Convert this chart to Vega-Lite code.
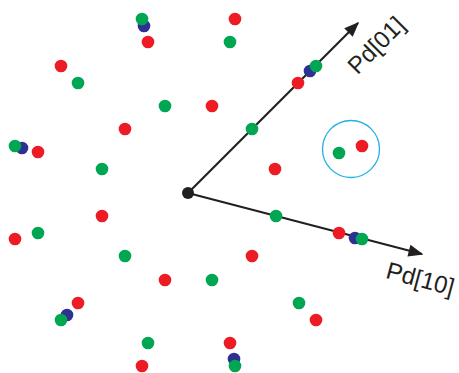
{
  "$schema": "https://vega.github.io/schema/vega-lite/v6.json",
  "width": 459,
  "height": 373,
  "padding": 0,
  "autosize": {"type": "fit", "contains": "padding"},
  "background": "white",
  "config": {"view": {"stroke": null}},
  "datasets": {
    "arrows": [
      {"name": "Pd[01]", "x0": 0, "y0": 0, "x": 170, "y": 170, "dir": 315, "lx": 189, "ly": 147, "la": 315},
      {"name": "Pd[10]", "x0": 0, "y0": 0, "x": 234, "y": -61, "dir": 14.6, "lx": 232, "ly": -87, "la": 15}
    ],
    "points": [
      {"group": "b", "x": -44, "y": 167},
      {"group": "b", "x": -166, "y": 45},
      {"group": "b", "x": 122, "y": 122},
      {"group": "b", "x": 167, "y": -45},
      {"group": "b", "x": -121, "y": -122},
      {"group": "b", "x": 46, "y": -166},
      {"group": "r", "x": 47, "y": 174},
      {"group": "r", "x": -40, "y": 151},
      {"group": "r", "x": -127, "y": 127},
      {"group": "r", "x": 24, "y": 87},
      {"group": "r", "x": -63, "y": 64},
      {"group": "r", "x": -150, "y": 41},
      {"group": "r", "x": 110, "y": 110},
      {"group": "r", "x": 174, "y": 47},
      {"group": "r", "x": 87, "y": 24},
      {"group": "r", "x": -86, "y": -23},
      {"group": "r", "x": -173, "y": -46},
      {"group": "r", "x": -23, "y": -87},
      {"group": "r", "x": -110, "y": -110},
      {"group": "r", "x": -46, "y": -173},
      {"group": "r", "x": 151, "y": -40},
      {"group": "r", "x": 64, "y": -63},
      {"group": "r", "x": 128, "y": -127},
      {"group": "r", "x": 42, "y": -150},
      {"group": "g", "x": -46, "y": 174},
      {"group": "g", "x": 42, "y": 151},
      {"group": "g", "x": -110, "y": 110},
      {"group": "g", "x": -23, "y": 87},
      {"group": "g", "x": 64, "y": 64},
      {"group": "g", "x": -173, "y": 47},
      {"group": "g", "x": 128, "y": 127},
      {"group": "g", "x": 151, "y": 40},
      {"group": "g", "x": -86, "y": 24},
      {"group": "g", "x": 88, "y": -23},
      {"group": "g", "x": -150, "y": -40},
      {"group": "g", "x": -63, "y": -63},
      {"group": "g", "x": 24, "y": -87},
      {"group": "g", "x": -127, "y": -127},
      {"group": "g", "x": -40, "y": -150},
      {"group": "g", "x": 47, "y": -173},
      {"group": "g", "x": 174, "y": -46},
      {"group": "g", "x": 111, "y": -110}
    ],
    "highlight": [{"x": 163, "y": 44}],
    "origin": [{"x": 0, "y": 0}]
  },
  "encoding": {
    "x": {"field": "x", "type": "quantitative", "axis": null,
          "scale": {"domain": [-188, 271], "nice": false, "zero": false}},
    "y": {"field": "y", "type": "quantitative", "axis": null,
          "scale": {"domain": [-180, 193], "nice": false, "zero": false}}
  },
  "layer": [
    {
      "data": {"name": "arrows"},
      "mark": {"type": "rule", "color": "#231F20", "strokeWidth": 2.1},
      "encoding": {
        "x": {"field": "x0", "type": "quantitative"},
        "y": {"field": "y0", "type": "quantitative"},
        "x2": {"field": "x"},
        "y2": {"field": "y"}
      }
    },
    {
      "data": {"name": "arrows"},
      "mark": {"type": "point", "filled": true, "color": "#231F20", "opacity": 1,
               "shape": "M0.2,0L-1.8,-0.8L-1.8,0.8Z", "size": 225},
      "encoding": {
        "angle": {"field": "dir", "type": "quantitative", "scale": null}
      }
    },
    {
      "data": {"name": "arrows"},
      "mark": {"type": "text", "font": "Liberation Sans", "fontSize": 24,
               "color": "#231F20", "align": "center", "baseline": "middle"},
      "encoding": {
        "x": {"field": "lx", "type": "quantitative"},
        "y": {"field": "ly", "type": "quantitative"},
        "text": {"field": "name"},
        "angle": {"field": "la", "type": "quantitative", "scale": null}
      }
    },
    {
      "data": {"name": "highlight"},
      "mark": {"type": "point", "shape": "circle", "filled": false, "size": 3249,
               "stroke": "#1FB1E3", "strokeWidth": 1.3, "opacity": 1}
    },
    {
      "data": {"name": "points"},
      "mark": {"type": "point", "shape": "circle", "filled": true, "size": 160, "opacity": 1},
      "encoding": {
        "color": {"field": "group", "type": "nominal", "legend": null,
                  "scale": {"domain": ["r", "g", "b"], "range": ["#ED1C24", "#00A651", "#2E3192"]}}
      }
    },
    {
      "data": {"name": "origin"},
      "mark": {"type": "point", "shape": "circle", "filled": true, "size": 144,
               "color": "#231F20", "opacity": 1}
    }
  ]
}
